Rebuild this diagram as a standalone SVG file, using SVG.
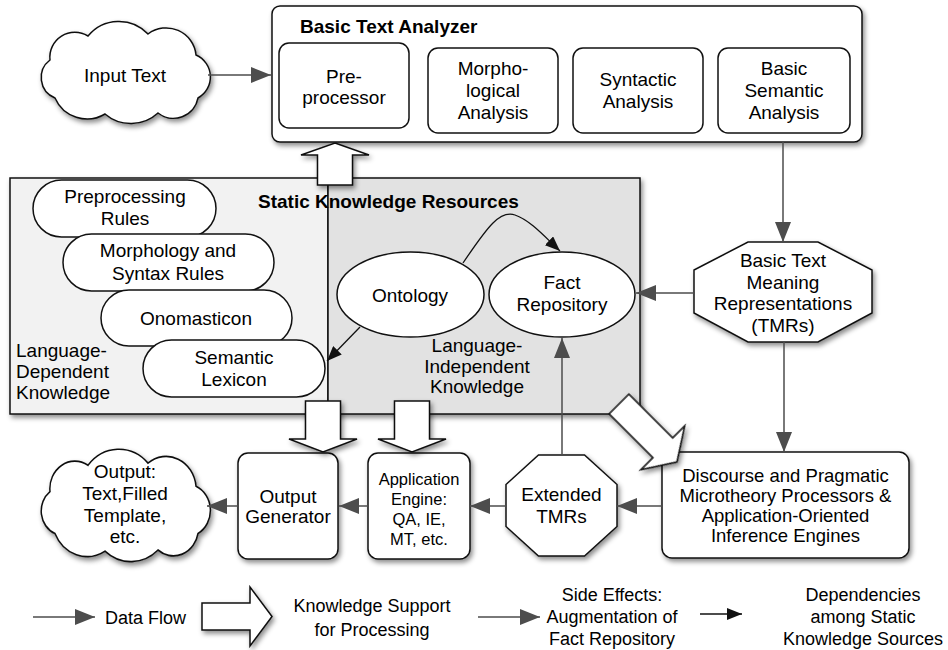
<svg xmlns="http://www.w3.org/2000/svg" width="948" height="650" viewBox="0 0 948 650">
<style>
  text{font-family:"Liberation Sans",Arial,Helvetica,sans-serif;font-size:19px;fill:#000;text-anchor:middle}
  .b{font-weight:bold;text-anchor:start}
  .l{text-anchor:start}
  .sm{font-size:16.5px}
  .lg{font-size:18px}
  .node{fill:#fff;stroke:#111;stroke-width:1.5}
  .flow{stroke:#4d4d4d;stroke-width:1.5;fill:none}
  .dep{stroke:#111;stroke-width:1.3;fill:none}
  .hollow{fill:#fff;stroke:#111;stroke-width:1.5;stroke-linejoin:miter}
</style>
<defs>
  <filter id="sh" x="-10%" y="-10%" width="125%" height="130%">
    <feDropShadow dx="2" dy="3" stdDeviation="2.5" flood-color="#000" flood-opacity="0.45"/>
  </filter>
  <marker id="ag" viewBox="0 0 20 16" refX="20" refY="8" markerWidth="20" markerHeight="16" markerUnits="userSpaceOnUse" orient="auto">
    <path d="M0,0 L20,8 L0,16 Z" fill="#4d4d4d"/>
  </marker>
  <marker id="ab" viewBox="0 0 15 12" refX="15" refY="6" markerWidth="15" markerHeight="12" markerUnits="userSpaceOnUse" orient="auto">
    <path d="M0,0 L15,6 L0,12 Z" fill="#111"/>
  </marker>
  <path id="cloud" d="M50,60 A25,25 0 0 1 88,36 A40,40 0 0 1 148,34 A30,30 0 0 1 196,55 A24,24 0 0 1 198,98 A25,25 0 0 1 158,113 A40,40 0 0 1 105,114 A35,35 0 0 1 55,98 A22,22 0 0 1 50,60 Z"/>
</defs>
<rect width="948" height="650" fill="#fff"/>

<!-- Static Knowledge Resources -->
<g id="static-knowledge">
  <g filter="url(#sh)">
    <rect x="10" y="178" width="318" height="236" fill="#f2f2f2" stroke="#111" stroke-width="1.5"/>
    <rect x="328" y="178" width="312" height="236" fill="#e2e2e2" stroke="#111" stroke-width="1.5"/>
  </g>
  <text class="b" x="258" y="208">Static Knowledge Resources</text>
  <text class="l" x="16" y="357">Language-</text>
  <text class="l" x="16" y="378">Dependent</text>
  <text class="l" x="16" y="399">Knowledge</text>
  <text x="477" y="352">Language-</text>
  <text x="477" y="373">Independent</text>
  <text x="477" y="393">Knowledge</text>
</g>
<g id="preprocessing-rules">
  <rect class="node" x="33" y="180" width="183" height="57" rx="28.5"/>
  <text x="125" y="203">Preprocessing</text>
  <text x="125" y="225">Rules</text>
</g>
<g id="morph-syntax-rules">
  <rect class="node" x="63" y="234" width="211" height="57" rx="28.5"/>
  <text x="168" y="257">Morphology and</text>
  <text x="168" y="280">Syntax Rules</text>
</g>
<g id="onomasticon">
  <rect class="node" x="101" y="290" width="191" height="56" rx="28"/>
  <text x="196" y="325">Onomasticon</text>
</g>
<g id="semantic-lexicon">
  <rect class="node" x="143" y="340" width="182" height="57" rx="28.5"/>
  <text x="234" y="364">Semantic</text>
  <text x="234" y="386">Lexicon</text>
</g>
<g id="ontology">
  <ellipse class="node" cx="410.5" cy="294.5" rx="73.5" ry="42.5"/>
  <text x="410" y="302">Ontology</text>
</g>
<g id="fact-repository">
  <ellipse class="node" cx="562" cy="294.5" rx="73" ry="42.5"/>
  <text x="562" y="289">Fact</text>
  <text x="562" y="310.5">Repository</text>
</g>

<!-- Input Text -->
<g id="input-text">
  <use href="#cloud" class="node" filter="url(#sh)"/>
  <text x="125" y="82">Input Text</text>
</g>

<!-- Basic Text Analyzer -->
<g id="basic-text-analyzer">
  <rect class="node" x="272" y="6" width="590" height="136" rx="8" filter="url(#sh)"/>
  <text class="b" x="300" y="33">Basic Text Analyzer</text>
</g>
<g id="preprocessor">
  <rect class="node" x="279" y="43" width="130" height="85" rx="10"/>
  <text x="344" y="83">Pre-</text>
  <text x="344" y="104">processor</text>
</g>
<g id="morphological-analysis">
  <rect class="node" x="428" y="48" width="130" height="85" rx="10"/>
  <text x="493" y="75">Morpho-</text>
  <text x="493" y="97">logical</text>
  <text x="493" y="119">Analysis</text>
</g>
<g id="syntactic-analysis">
  <rect class="node" x="573" y="48" width="130" height="85" rx="10"/>
  <text x="638" y="86">Syntactic</text>
  <text x="638" y="108">Analysis</text>
</g>
<g id="basic-semantic-analysis">
  <rect class="node" x="718" y="48" width="132" height="85" rx="10"/>
  <text x="784" y="75">Basic</text>
  <text x="784" y="97">Semantic</text>
  <text x="784" y="119">Analysis</text>
</g>

<!-- TMRs -->
<g id="basic-tmrs">
  <polygon class="node" filter="url(#sh)" points="748,242 818,242 872,270 872,313 818,342 748,342 694,313 694,270"/>
  <text x="783" y="267">Basic Text</text>
  <text x="783" y="288.5">Meaning</text>
  <text x="783" y="310">Representations</text>
  <text x="783" y="331.5">(TMRs)</text>
</g>
<g id="discourse-processors">
  <rect class="node" x="662" y="452" width="247" height="106" rx="10" filter="url(#sh)"/>
  <text x="785.5" y="481.5" style="font-size:18.5px">Discourse and Pragmatic</text>
  <text x="785.5" y="501.5" style="font-size:18.5px">Microtheory Processors &amp;</text>
  <text x="785.5" y="521.5" style="font-size:18.5px">Application-Oriented</text>
  <text x="785.5" y="541.5" style="font-size:18.5px">Inference Engines</text>
</g>
<g id="extended-tmrs">
  <polygon class="node" filter="url(#sh)" points="538.5,455 584.5,455 617,484.5 617,526.5 584.5,556 538.5,556 506,526.5 506,484.5"/>
  <text x="561.5" y="501">Extended</text>
  <text x="561.5" y="523">TMRs</text>
</g>
<g id="application-engine">
  <rect class="node" x="368" y="453" width="102" height="106" rx="10" filter="url(#sh)"/>
  <text class="sm" x="419" y="485">Application</text>
  <text class="sm" x="419" y="505">Engine:</text>
  <text class="sm" x="419" y="525">QA, IE,</text>
  <text class="sm" x="419" y="545">MT, etc.</text>
</g>
<g id="output-generator">
  <rect class="node" x="238" y="453" width="100" height="106" rx="10" filter="url(#sh)"/>
  <text x="288" y="503">Output</text>
  <text x="288" y="523">Generator</text>
</g>
<g id="output">
  <use href="#cloud" class="node" filter="url(#sh)" transform="translate(0,506) scale(1,1.1) translate(0,-73)" style="vector-effect:non-scaling-stroke"/>
  <text x="125" y="478">Output:</text>
  <text x="125" y="500">Text,Filled</text>
  <text x="125" y="522">Template,</text>
  <text x="125" y="543">etc.</text>
</g>

<!-- Connectors -->
<g id="connectors">
  <line class="flow" x1="208" y1="75" x2="271" y2="75" marker-end="url(#ag)"/>
  <line class="flow" x1="783" y1="142" x2="783" y2="242" marker-end="url(#ag)"/>
  <line class="flow" x1="694" y1="293" x2="636" y2="293" marker-end="url(#ag)"/>
  <line class="flow" x1="784" y1="342" x2="784" y2="452" marker-end="url(#ag)"/>
  <line class="flow" x1="662" y1="506" x2="617" y2="506" marker-end="url(#ag)"/>
  <line class="flow" x1="506" y1="506" x2="470" y2="506" marker-end="url(#ag)"/>
  <line class="flow" x1="368" y1="506" x2="339" y2="506" marker-end="url(#ag)"/>
  <line class="flow" x1="238" y1="506" x2="207" y2="506" marker-end="url(#ag)"/>
  <line class="flow" x1="562" y1="455" x2="562" y2="338" marker-end="url(#ag)"/>
  <path class="dep" d="M463,263 C488,226 500,210 515,215 C530,220 545,237 560,251" marker-end="url(#ab)"/>
  <line class="dep" x1="360" y1="327" x2="327" y2="361" marker-end="url(#ab)"/>
  <g filter="url(#sh)">
    <polygon class="hollow" points="335,143 369,155 352.5,155 352.5,185 317.5,185 317.5,155 301,155"/>
    <polygon class="hollow" points="305.5,401 340.5,401 340.5,439 357,439 323,452 289,439 305.5,439"/>
    <polygon class="hollow" points="394.5,401 429.5,401 429.5,439 446,439 412,452 378,439 394.5,439"/>
    <polygon class="hollow" transform="translate(619,404) rotate(45)" points="0,-14 62,-14 62,-31 82,0 62,31 62,14 0,14"/>
  </g>
</g>

<!-- Legend -->
<g id="legend">
  <line class="flow" x1="33" y1="617" x2="95" y2="617" marker-end="url(#ag)"/>
  <text class="lg l" x="105" y="624">Data Flow</text>
  <polygon class="hollow" filter="url(#sh)" points="202,603 250,603 250,587 272,616.5 250,646 250,630 202,630"/>
  <text class="lg" x="372" y="612">Knowledge Support</text>
  <text class="lg" x="372" y="636">for Processing</text>
  <line class="flow" x1="478" y1="617" x2="540" y2="617" marker-end="url(#ag)"/>
  <text class="lg" x="612" y="601">Side Effects:</text>
  <text class="lg" x="612" y="623">Augmentation of</text>
  <text class="lg" x="612" y="645">Fact Repository</text>
  <line class="dep" x1="700" y1="614" x2="742" y2="614" marker-end="url(#ab)"/>
  <text class="lg" x="863" y="601">Dependencies</text>
  <text class="lg" x="863" y="623">among Static</text>
  <text class="lg" x="863" y="645">Knowledge Sources</text>
</g>
</svg>
